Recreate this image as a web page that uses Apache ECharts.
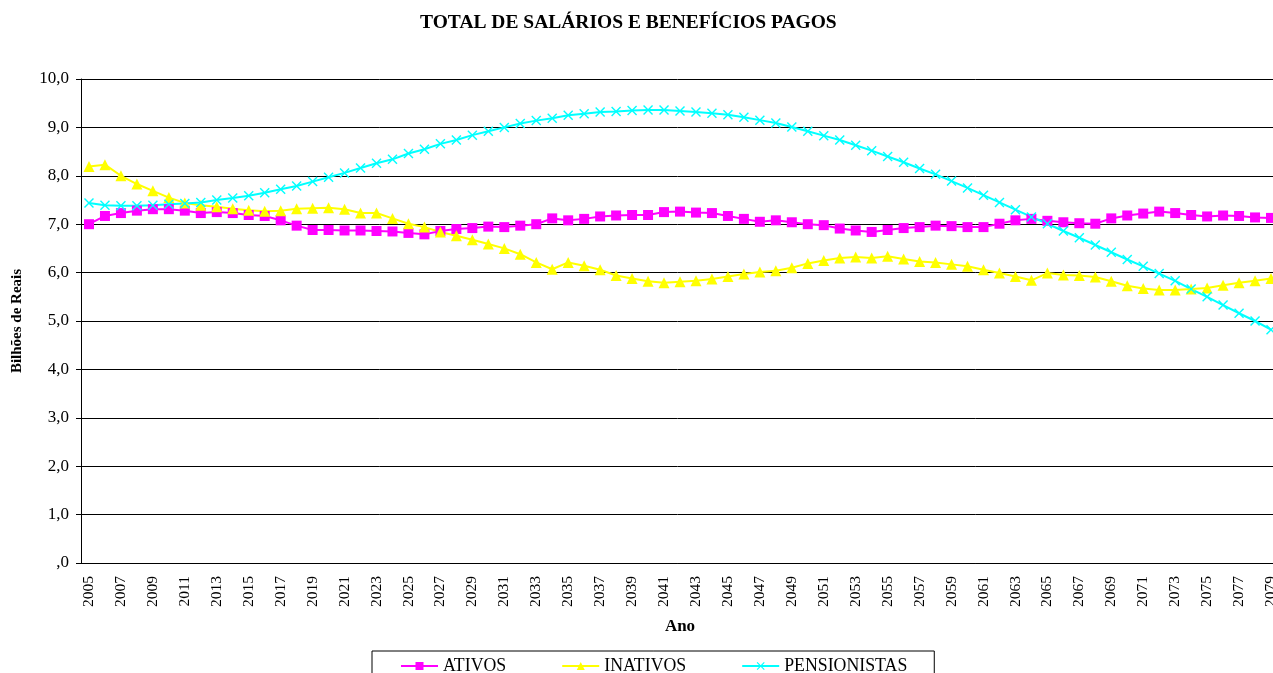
<!DOCTYPE html>
<html>
<head>
<meta charset="utf-8">
<title>Total de salários e benefícios pagos</title>
<script src="https://cdn.jsdelivr.net/npm/echarts@6/dist/echarts.min.js"></script>
<style>
	html, body { margin: 0; padding: 0; background: #fff; }
	#chart { width: 1273px; height: 673px; }
</style>
</head>
<body>
<div id="chart"></div>
<script>
// anos 2005 .. 2079
var years = []
for (var y = 2005; y <= 2079; y++) years.push(String(y))

var ativos = [
	7.00, 7.17, 7.23, 7.28, 7.31, 7.31, 7.28, 7.23, 7.25, 7.23,
	7.19, 7.17, 7.08, 6.97, 6.88, 6.88, 6.87, 6.87, 6.86, 6.85,
	6.82, 6.79, 6.86, 6.90, 6.92, 6.95, 6.94, 6.97, 7.00, 7.12,
	7.08, 7.11, 7.16, 7.18, 7.19, 7.19, 7.25, 7.26, 7.24, 7.23,
	7.17, 7.11, 7.05, 7.08, 7.04, 7.00, 6.98, 6.91, 6.87, 6.84,
	6.88, 6.92, 6.94, 6.97, 6.96, 6.94, 6.94, 7.01, 7.08, 7.11,
	7.07, 7.04, 7.02, 7.01, 7.12, 7.18, 7.22, 7.26, 7.23, 7.19,
	7.16, 7.18, 7.17, 7.14, 7.13
]

var inativos = [
	8.19, 8.23, 8.00, 7.83, 7.69, 7.55, 7.44, 7.39, 7.36, 7.32,
	7.29, 7.27, 7.28, 7.32, 7.33, 7.34, 7.31, 7.23, 7.23, 7.12,
	7.01, 6.94, 6.84, 6.76, 6.68, 6.59, 6.50, 6.38, 6.21, 6.07,
	6.21, 6.14, 6.06, 5.94, 5.88, 5.82, 5.79, 5.81, 5.83, 5.87,
	5.92, 5.97, 6.01, 6.04, 6.10, 6.19, 6.25, 6.30, 6.32, 6.30,
	6.34, 6.28, 6.23, 6.21, 6.17, 6.13, 6.06, 5.99, 5.92, 5.84,
	5.99, 5.95, 5.94, 5.91, 5.82, 5.73, 5.67, 5.64, 5.64, 5.66,
	5.68, 5.74, 5.79, 5.83, 5.88
]

var pensionistas = [
	7.44, 7.39, 7.38, 7.38, 7.39, 7.41, 7.43, 7.45, 7.50, 7.54,
	7.59, 7.65, 7.72, 7.79, 7.88, 7.97, 8.06, 8.16, 8.26, 8.34,
	8.46, 8.55, 8.66, 8.74, 8.84, 8.92, 9.00, 9.08, 9.14, 9.19,
	9.25, 9.28, 9.32, 9.33, 9.35, 9.36, 9.36, 9.34, 9.32, 9.29,
	9.26, 9.21, 9.15, 9.09, 9.01, 8.92, 8.83, 8.74, 8.63, 8.52,
	8.40, 8.28, 8.15, 8.03, 7.89, 7.75, 7.60, 7.45, 7.30, 7.15,
	7.01, 6.86, 6.72, 6.57, 6.42, 6.27, 6.13, 5.98, 5.83, 5.66,
	5.50, 5.33, 5.16, 5.00, 4.82
]

var serif = "'Liberation Serif', 'Times New Roman', serif"
// marcador em X (preenchido, pois path do echarts não é traçado)
var xMark = 'path://M0,1L1,0L5,4L9,0L10,1L6,5L10,9L9,10L5,6L1,10L0,9L4,5Z'

var chart = echarts.init(document.getElementById('chart'), null, { renderer: 'canvas' })

function serie(name, data, color, symbol, size) {
	return {
		name: name,
		type: 'line',
		data: data,
		symbol: symbol,
		symbolSize: size,
		showAllSymbol: true,
		animation: false,
		itemStyle: { color: color },
		lineStyle: { color: color, width: 2 }
	}
}

chart.setOption({
	backgroundColor: '#fff',
	textStyle: { fontFamily: serif },
	title: {
		text: 'TOTAL DE SALÁRIOS E BENEFÍCIOS PAGOS',
		left: 415,
		top: 8,
		textStyle: { fontFamily: serif, fontSize: 19.5, fontWeight: 'bold', color: '#000' }
	},
	legend: {
		left: 372,
		top: 651,
		padding: [6, 27, 12, 28],
		itemGap: 55,
		itemWidth: 37,
		itemHeight: 10,
		borderColor: '#000',
		borderWidth: 1,
		textStyle: { fontFamily: serif, fontSize: 17.8, color: '#000' },
		data: ['ATIVOS', 'INATIVOS', 'PENSIONISTAS']
	},
	grid: {
		left: 81,
		right: -6,
		top: 79,
		bottom: 110,
		outerBoundsMode: 'none'
	},
	xAxis: {
		type: 'category',
		data: years,
		boundaryGap: true,
		name: 'Ano',
		nameLocation: 'middle',
		nameGap: 55,
		nameTextStyle: { fontFamily: serif, fontSize: 17, fontWeight: 'bold', color: '#000' },
		axisLine: { lineStyle: { color: '#000', width: 1 } },
		axisTick: { interval: 0, length: 5, lineStyle: { color: '#000' } },
		axisLabel: { interval: 1, rotate: 90, margin: 13, fontSize: 15.5, color: '#000', fontFamily: serif },
		splitLine: { show: false }
	},
	yAxis: {
		type: 'value',
		min: 0,
		max: 10,
		interval: 1,
		name: 'Bilhões de Reais',
		nameLocation: 'middle',
		nameGap: 56,
		nameTextStyle: { fontFamily: serif, fontSize: 15, fontWeight: 'bold', color: '#000' },
		axisLine: { show: true, lineStyle: { color: '#000', width: 1 } },
		axisTick: { show: true, length: 5, lineStyle: { color: '#000' } },
		axisLabel: {
			margin: 12,
			fontSize: 17,
			color: '#000',
			fontFamily: serif,
			formatter: function (v) {
				return v === 0 ? ',0' : v.toFixed(1).replace('.', ',')
			}
		},
		splitLine: { show: true, lineStyle: { color: '#000', width: 1 } }
	},
	series: [
		serie('ATIVOS', ativos, '#FF00FF', 'rect', 10),
		serie('INATIVOS', inativos, '#FFFF00', 'triangle', 11),
		serie('PENSIONISTAS', pensionistas, '#00FFFF', xMark, 10)
	]
})
</script>
</body>
</html>
